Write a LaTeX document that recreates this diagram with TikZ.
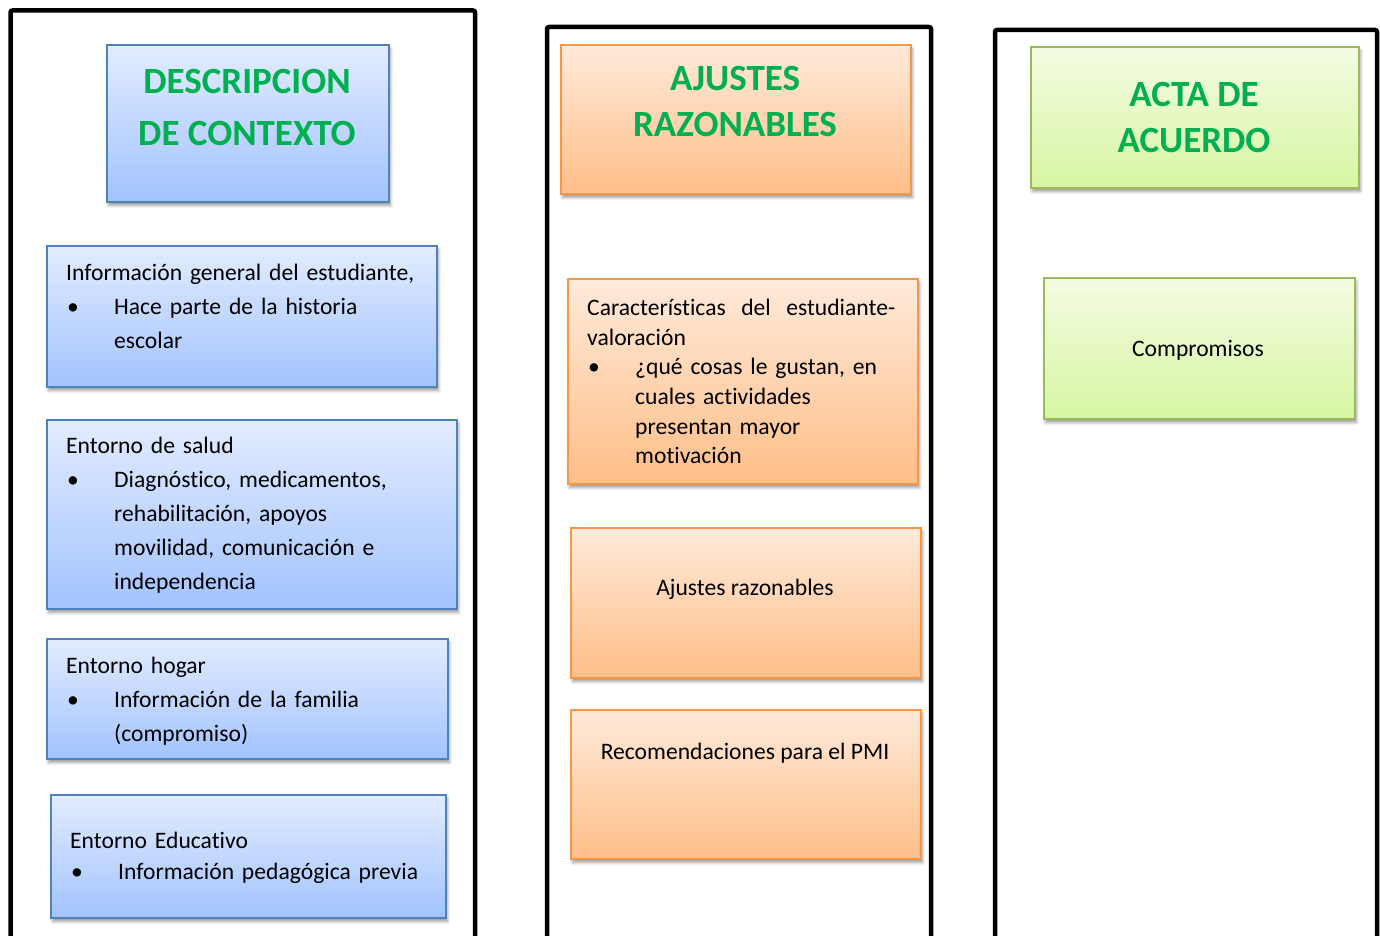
\documentclass[tikz,border=0pt]{standalone}
\usepackage{fontspec}
\setmainfont{Carlito}[Ligatures=NoCommon]
\usetikzlibrary{shapes, positioning}
\usetikzlibrary{shadows.blur}

\definecolor{titlegreen}{RGB}{0,176,80}
\definecolor{blueline}{RGB}{79,129,189}
\definecolor{bluetop}{RGB}{226,236,255}
\definecolor{bluebot}{RGB}{162,195,255}
\definecolor{orangeline}{RGB}{247,150,70}
\definecolor{orangetop}{RGB}{255,234,218}
\definecolor{orangebot}{RGB}{255,190,136}
\definecolor{greenline}{RGB}{155,187,89}
\definecolor{greentop}{RGB}{243,251,226}
\definecolor{greenbot}{RGB}{215,246,162}

\newcommand{\itembul}{\makebox[48pt][l]{\hspace{1pt}\textbullet}}
\newcommand{\itemind}{\hspace*{48pt}}

\tikzstyle{colframe} = [line width=4.5pt, rounded corners=2pt]
\tikzstyle{shadedbox} = [rectangle, line width=2pt, anchor=north west, blur shadow={shadow xshift=1.5pt, shadow yshift=-3.5pt, shadow blur radius=3pt, shadow opacity=40}]
\tikzstyle{bluebox} = [shadedbox, draw=blueline, top color=bluetop, bottom color=bluebot]
\tikzstyle{orangebox} = [shadedbox, draw=orangeline, top color=orangetop, bottom color=orangebot]
\tikzstyle{greenbox} = [shadedbox, draw=greenline, top color=greentop, bottom color=greenbot]
\tikzstyle{titletext} = [text=titlegreen, font=\bfseries\fontsize{37}{46}\selectfont, align=center, inner sep=0pt]
\tikzstyle{bodytext} = [font=\fontsize{23.6}{34}\selectfont, align=left, inner sep=0pt, anchor=west]

\begin{document}
\begin{tikzpicture}[x=1pt, y=-1pt]
    \useasboundingbox (0,0) rectangle (1380,936);

    % Columns
    \draw [colframe] (10.5,960) -- (10.5,10.5) -- (475,10.5) -- (475,960);
    \draw [colframe] (547,960) -- (547,27) -- (931,27) -- (931,960);
    \draw [colframe] (995,960) -- (995,30) -- (1377,30) -- (1377,960);

    % Descripcion de contexto
    \node (desc) [bluebox, minimum width=282pt, minimum height=157pt] at (106,44) {};
    \node (info) [bluebox, minimum width=390pt, minimum height=141pt] at (46,245) {};
    \node (salud) [bluebox, minimum width=410pt, minimum height=189pt] at (46,419) {};
    \node (hogar) [bluebox, minimum width=401pt, minimum height=120pt] at (46,638) {};
    \node (educ) [bluebox, minimum width=395pt, minimum height=123pt] at (50,794) {};

    \node (descT) [titletext, font=\bfseries\fontsize{37}{52}\selectfont] at (247,107) {DESCRIPCION\\DE CONTEXTO};
    \node (infoT) [bodytext, text width=360pt] at (66,306.5) {Información general del estudiante,\\\itembul Hace parte de la historia\\\itemind escolar};
    \node (saludT) [bodytext, text width=380pt] at (66,515) {Entorno de salud\\\itembul Diagnóstico, medicamentos,\\\itemind rehabilitación, apoyos\\\itemind movilidad, comunicación e\\\itemind independencia};
    \node (hogarT) [bodytext, text width=370pt] at (66,701) {Entorno hogar\\\itembul Información de la familia\\\itemind (compromiso)};
    \node (educT) [bodytext, text width=370pt, font=\fontsize{23.6}{31}\selectfont] at (70,857.5) {Entorno Educativo\\\itembul Información pedagógica previa};

    % Ajustes razonables
    \node (ajus) [orangebox, minimum width=350pt, minimum height=149pt] at (560,44) {};
    \node (carac) [orangebox, minimum width=350pt, minimum height=205pt] at (567,278) {};
    \node (ajraz) [orangebox, minimum width=350pt, minimum height=150pt] at (570,527) {};
    \node (recom) [orangebox, minimum width=350pt, minimum height=149pt] at (570,709) {};

    \node (ajusT) [titletext] at (735,101) {AJUSTES\\RAZONABLES};
    \node (caracT) [bodytext, text width=320pt, font=\fontsize{23.6}{29.6}\selectfont] at (587,381.5) {Características\hspace{15.5pt}del\hspace{15.5pt}estudiante-\\valoración\\\itembul ¿qué cosas le gustan, en\\\itemind cuales actividades\\\itemind presentan mayor\\\itemind motivación};
    \node (ajrazT) [bodytext, anchor=center] at (745,589) {Ajustes razonables};
    \node (recomT) [bodytext, anchor=center] at (745,753) {Recomendaciones para el PMI};

    % Acta de acuerdo
    \node (acta) [greenbox, minimum width=328pt, minimum height=141pt] at (1030,46) {};
    \node (comp) [greenbox, minimum width=311pt, minimum height=141pt] at (1043,277) {};

    \node (actaT) [titletext] at (1194,118) {ACTA DE\\ACUERDO};
    \node (compT) [bodytext, anchor=center] at (1198,350) {Compromisos};

\end{tikzpicture}
\end{document}
